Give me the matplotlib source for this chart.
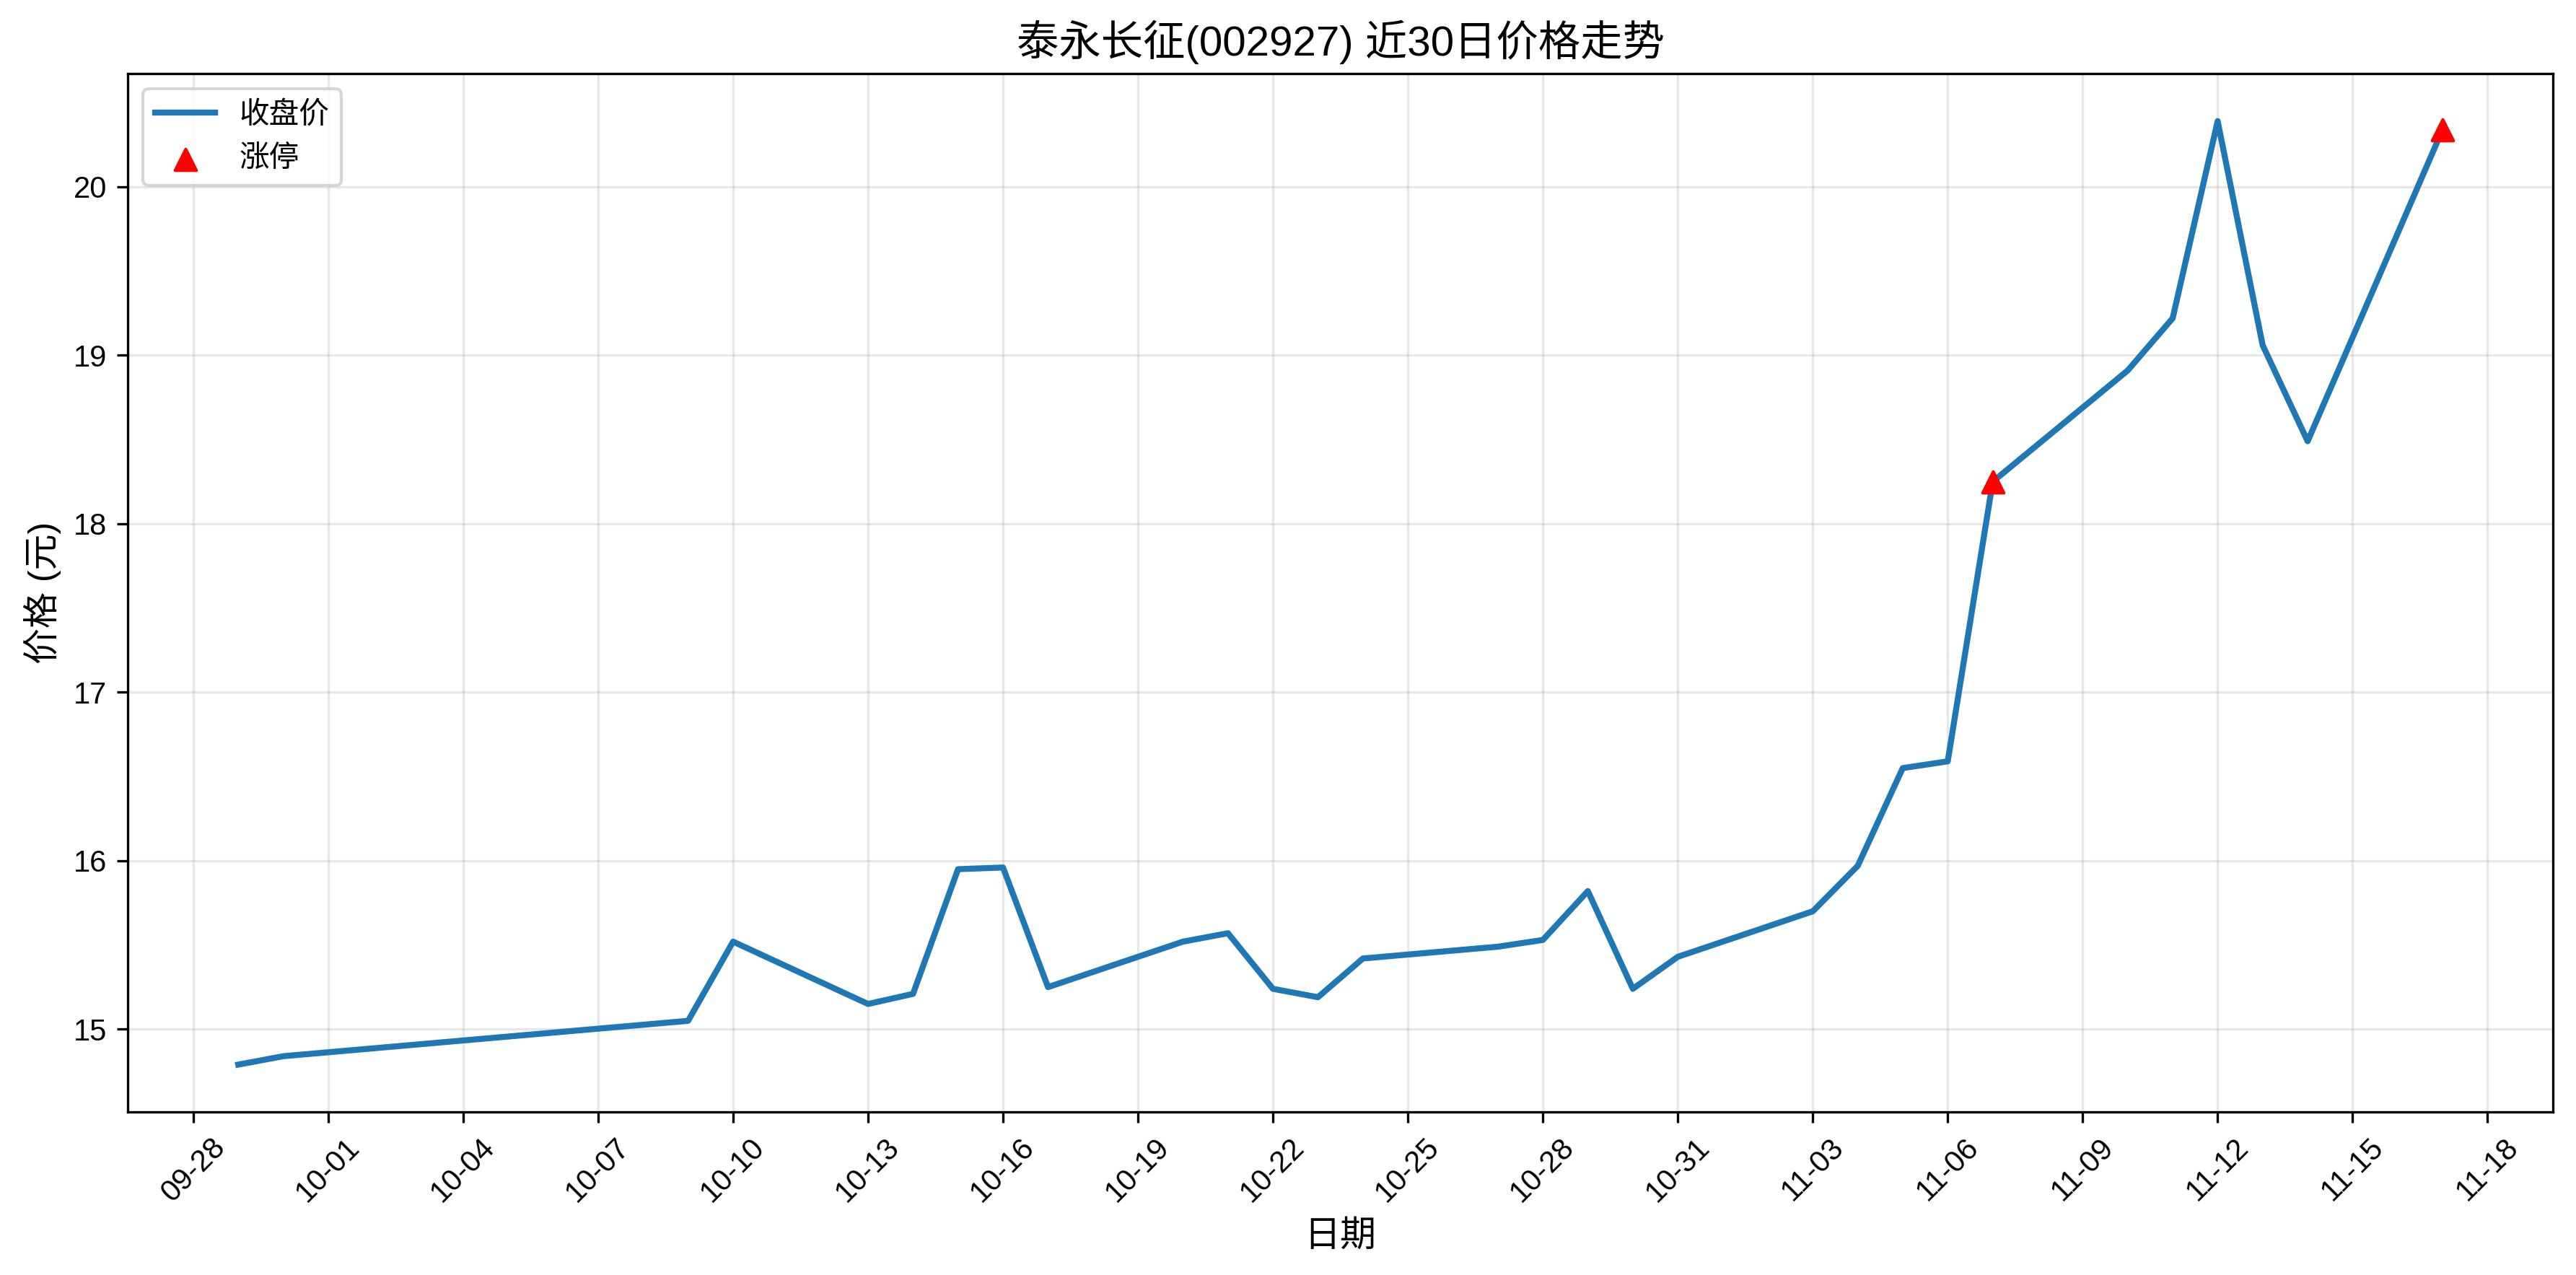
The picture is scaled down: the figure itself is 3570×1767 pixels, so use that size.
import pandas as pd
import matplotlib
matplotlib.use("Agg")
import matplotlib.pyplot as plt
import matplotlib.dates as mdates

plt.rcParams['font.family'] = ['Liberation Sans', 'Noto Sans CJK SC', 'DejaVu Sans']
plt.rcParams['axes.unicode_minus'] = False

dates = ["2025-09-29", "2025-09-30", "2025-10-09", "2025-10-10", "2025-10-13",
         "2025-10-14", "2025-10-15", "2025-10-16", "2025-10-17", "2025-10-20",
         "2025-10-21", "2025-10-22", "2025-10-23", "2025-10-24", "2025-10-27",
         "2025-10-28", "2025-10-29", "2025-10-30", "2025-10-31", "2025-11-03",
         "2025-11-04", "2025-11-05", "2025-11-06", "2025-11-07", "2025-11-10",
         "2025-11-11", "2025-11-12", "2025-11-13", "2025-11-14", "2025-11-17"]
close = [14.79, 14.84, 15.05, 15.52, 15.15,
         15.21, 15.95, 15.96, 15.25, 15.52,
         15.57, 15.24, 15.19, 15.42, 15.49,
         15.53, 15.82, 15.24, 15.43, 15.70,
         15.97, 16.55, 16.59, 18.25, 18.91,
         19.22, 20.39, 19.06, 18.49, 20.34]
limit_up_dates = ["2025-11-07", "2025-11-17"]
limit_up_prices = [18.25, 20.34]

x = pd.to_datetime(dates)
xu = pd.to_datetime(limit_up_dates)
ticks = pd.date_range("2025-09-28", "2025-11-18", freq="3D")

fig, ax = plt.subplots(figsize=(11.9, 5.89), dpi=300)
ax.plot(x, close, color="#1f77b4", linewidth=2, label="收盘价")
ax.scatter(xu, limit_up_prices, color="red", marker="^", s=50, zorder=5, label="涨停")

ax.set_title("泰永长征(002927) 近30日价格走势", fontsize=14)
ax.set_xlabel("日期", fontsize=12)
ax.set_ylabel("价格 (元)", fontsize=12)
ax.set_xticks(ticks)
ax.xaxis.set_major_formatter(mdates.DateFormatter("%m-%d"))
plt.setp(ax.get_xticklabels(), rotation=45)
ax.grid(True, alpha=0.3)
ax.legend(loc="upper left")

fig.subplots_adjust(left=0.0497, right=0.991, top=0.942, bottom=0.128)
plt.savefig("out.png", dpi=300)
